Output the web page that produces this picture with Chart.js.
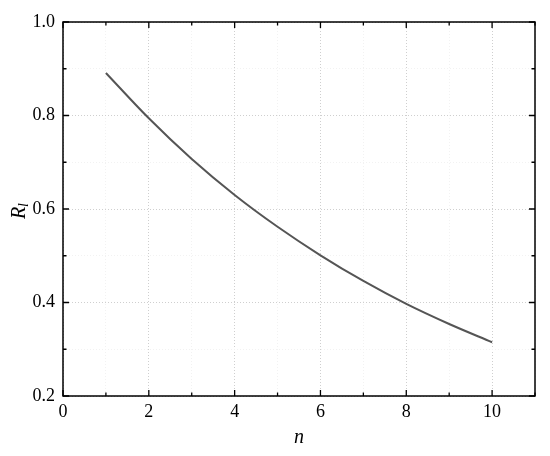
<!DOCTYPE html>
<html>
<head>
<meta charset="utf-8">
<script src="https://cdn.jsdelivr.net/npm/chart.js@4"></script>
<style>
  html, body { margin: 0; padding: 0; background: #fff; }
  #wrap { width: 550px; height: 456px; }
</style>
</head>
<body>
<div id="wrap"><canvas id="chart" width="550" height="456"></canvas></div>
<script>
// values
const nValues = [1, 2, 3, 4, 5, 6, 7, 8, 9, 10];
const rlValues = [0.891, 0.794, 0.707, 0.630, 0.562, 0.501, 0.446, 0.397, 0.354, 0.315];

const xTicks = [0, 2, 4, 6, 8, 10];
const yTicks = [0.2, 0.4, 0.6, 0.8, 1.0];

const FONT = "'Liberation Serif', 'Times New Roman', serif";

function isMajorX(v) { return xTicks.includes(Math.round(v)); }
function isMajorY(v) { return yTicks.some(t => Math.abs(t - v) < 1e-6); }

// Inward ticks on all four sides, frame and axis titles
const framePlugin = {
  id: 'frame',
  afterDraw(chart) {
    const ctx = chart.ctx;
    const { left, right, top, bottom } = chart.chartArea;
    const xs = chart.scales.x;
    const ys = chart.scales.y;
    ctx.save();
    ctx.strokeStyle = '#000';
    ctx.lineWidth = 1.5;
    ctx.strokeRect(left, top, right - left, bottom - top);

    ctx.lineWidth = 1.3;
    ctx.beginPath();
    xs.ticks.forEach(t => {
      const px = xs.getPixelForValue(t.value);
      const len = isMajorX(t.value) ? 6 : 3.5;
      ctx.moveTo(px, bottom); ctx.lineTo(px, bottom - len);
      ctx.moveTo(px, top); ctx.lineTo(px, top + len);
    });
    ys.ticks.forEach(t => {
      const py = ys.getPixelForValue(t.value);
      const len = isMajorY(t.value) ? 6 : 3.5;
      ctx.moveTo(left, py); ctx.lineTo(left + len, py);
      ctx.moveTo(right, py); ctx.lineTo(right - len, py);
    });
    ctx.stroke();

    // x title
    ctx.fillStyle = '#000';
    ctx.font = 'italic 20px ' + FONT;
    ctx.textAlign = 'center';
    ctx.textBaseline = 'middle';
    ctx.fillText('n', (left + right) / 2, 438);

    // y title R_l
    ctx.translate(19, (top + bottom) / 2 + 2);
    ctx.rotate(-Math.PI / 2);
    ctx.textAlign = 'left';
    ctx.textBaseline = 'alphabetic';
    ctx.font = 'italic 20px ' + FONT;
    const w = ctx.measureText('R').width;
    ctx.fillText('R', -(w + 4) / 2, 6);
    ctx.font = 'italic 14px ' + FONT;
    ctx.fillText('l', -(w + 4) / 2 + w, 9);
    ctx.restore();
  }
};

new Chart(document.getElementById('chart'), {
  type: 'scatter',
  data: {
    datasets: [{
      label: 'Rl',
      data: nValues.map((n, i) => ({ x: n, y: rlValues[i] })),
      showLine: true,
      borderColor: '#555555',
      borderWidth: 2,
      pointRadius: 0,
      cubicInterpolationMode: 'monotone',
      fill: false
    }]
  },
  options: {
    responsive: false,
    animation: false,
    events: [],
    layout: { padding: { left: 0, top: 22, right: 15, bottom: 0 } },
    plugins: {
      legend: { display: false },
      tooltip: { enabled: false }
    },
    scales: {
      x: {
        type: 'linear',
        min: 0,
        max: 11,
        afterFit(scale) { scale.height = 60; },
        ticks: {
          stepSize: 1,
          autoSkip: false,
          maxRotation: 0,
          padding: 5,
          color: '#000',
          font: { family: FONT, size: 18 },
          callback: v => isMajorX(v) ? String(v) : ''
        },
        grid: {
          drawTicks: false,
          color: ctx => isMajorX(ctx.tick.value) ? '#cfcfcf' : '#f2f2f2',
          lineWidth: 1
        },
        border: { display: false, dash: [1, 2] }
      },
      y: {
        type: 'linear',
        min: 0.2,
        max: 1.0,
        afterFit(scale) { scale.width = 63; },
        ticks: {
          stepSize: 0.1,
          autoSkip: false,
          padding: 8,
          color: '#000',
          font: { family: FONT, size: 18 },
          callback: v => isMajorY(v) ? v.toFixed(1) : ''
        },
        grid: {
          drawTicks: false,
          color: ctx => isMajorY(ctx.tick.value) ? '#cfcfcf' : '#f2f2f2',
          lineWidth: 1
        },
        border: { display: false, dash: [1, 2] }
      }
    }
  },
  plugins: [framePlugin]
});
</script>
</body>
</html>
